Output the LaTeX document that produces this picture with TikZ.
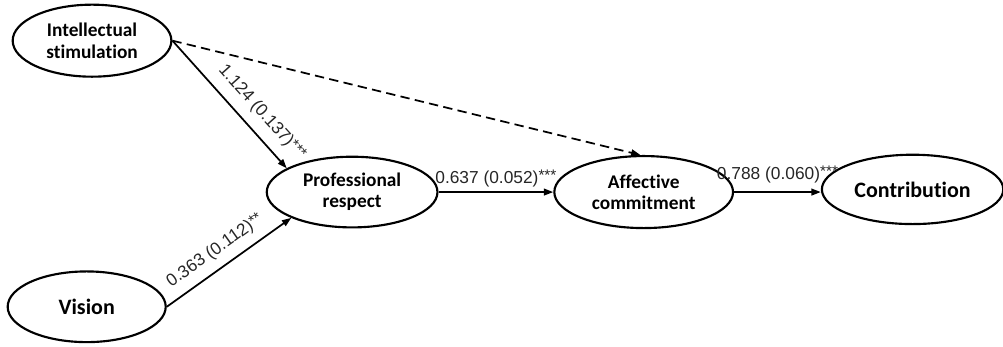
\documentclass[tikz,border=0pt]{standalone}
\usepackage{fontspec}
\setmainfont{Liberation Sans}
\newfontfamily\calfont[Ligatures=NoCommon]{Carlito}
\usetikzlibrary{arrows.meta,positioning,shapes}
\newcommand\signif[1]{\raisebox{0.25ex}{\fontsize{11.5}{12}\selectfont #1}}

\begin{document}
\begin{tikzpicture}[
    construct/.style={ellipse, draw, line width=1.6pt, inner sep=0pt, align=center, font=\calfont\bfseries\fontsize{14.5}{16}\selectfont},
    single/.style={font=\calfont\bfseries\fontsize{16.5}{18}\selectfont},
    path/.style={line width=1.3pt, -{Triangle[length=7pt,width=5pt]}},
    coef/.style={font=\fontsize{13}{15}\selectfont, text=black!85}
  ]
    \useasboundingbox (0,0) rectangle (752pt,260pt);
    \node[construct, minimum width=128pt, minimum height=53pt] (pr) at (264pt,116pt) {Professional\\respect};
    \node[construct, minimum width=134pt, minimum height=54pt, right=86pt of pr] (ac) {Affective\\commitment};
    \node[construct, single, minimum width=136pt, minimum height=52pt, right=65pt of ac, yshift=2pt] (con) {Contribution};
    \node[construct, minimum width=119pt, minimum height=54pt] (is) at (69pt,229.5pt) {Intellectual\\stimulation};
    \node[construct, single, minimum width=118.5pt, minimum height=53pt] (vis) at (65pt,30pt) {Vision};
    \draw[path] (is.east) -- node[coef, sloped, above=4pt, pos=0.66] {1.124 (0.137)\signif{***}} (pr.160);
    \draw[path, dash pattern=on 7pt off 4pt] (is.east) -- (ac.95);
    \draw[path] (vis.east) -- node[coef, sloped, above=3pt, pos=0.47] {0.363 (0.112)\signif{**}} (pr.203);
    \draw[path] (pr.east) -- node[coef, above] {0.637 (0.052)\signif{***}} (ac.west);
    \draw[path] (ac.east) -- node[coef, above=3pt] {0.788 (0.060)\signif{***}} (con.west |- ac.east);
  \end{tikzpicture}
\end{document}
